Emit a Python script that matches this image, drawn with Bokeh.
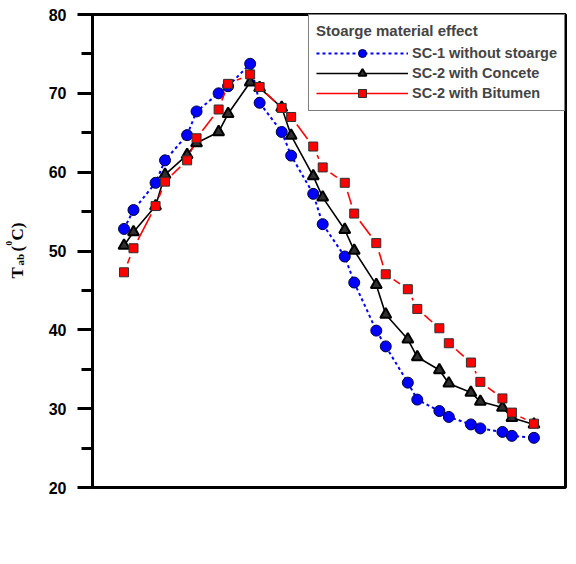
import math
from bokeh.plotting import figure
from bokeh.layouts import row
from bokeh.models import FixedTicker, Legend, LegendItem, Label, Range1d
from bokeh.embed import file_html
from bokeh.resources import INLINE

# ---------------- data ----------------
time = [8, 8.3, 9, 9.3, 10, 10.3, 11, 11.3, 12, 12.3, 13, 13.3, 14, 14.3,
        15, 15.3, 16, 16.3, 17, 17.3, 18, 18.3, 19, 19.3, 20, 20.3, 21]
sc1_without_storage = [52.8, 55.2, 58.65, 61.5, 64.7, 67.7, 70.0, 70.9, 73.75, 68.8,
                       65.1, 62.1, 57.25, 53.4, 49.3, 46.0, 39.9, 37.9, 33.3, 31.15,
                       29.7, 28.95, 28.0, 27.5, 27.05, 26.55, 26.3]
sc2_concrete = [50.7, 52.4, 55.7, 59.7, 62.2, 63.7, 65.1, 67.4, 71.4, 70.7,
                68.2, 64.65, 59.5, 56.8, 52.7, 50.05, 45.7, 41.95, 38.8, 36.55,
                34.9, 33.2, 32.05, 30.9, 30.15, 28.85, 28.0]
sc2_bitumen = [47.3, 50.35, 55.7, 58.8, 61.5, 64.3, 67.95, 71.2, 72.4, 70.8,
               68.15, 67.0, 63.25, 60.6, 58.65, 54.75, 51.0, 47.05, 45.15, 42.65,
               40.2, 38.3, 35.85, 33.4, 31.3, 29.5, 28.1]
series_names = ["SC-1 without stoarge", "SC-2 with Concete", "SC-2 with Bitumen"]
legend_title = "Stoarge material effect"
x_ticks = [8, 10, 12, 14, 16, 18, 20, 22]
y_ticks = [20, 30, 40, 50, 60, 70, 80]
y_minor_ticks = [25, 35, 45, 55, 65, 75]

# ---------------- layout ----------------
LW = 34                      # width of the strip holding the y-axis title
X0, X1, Y0, Y1 = 7, 22, 20, 80
FW, FH = 473, 473
BL, BR, BT, BB = 92 - LW, 11, 14, 77
TOTAL_H = BT + FH + BB

p = figure(width=BL + FW + BR, height=TOTAL_H,
           x_range=Range1d(X0, X1), y_range=Range1d(Y0, Y1),
           output_backend="svg", toolbar_location=None,
           min_border_left=BL, min_border_right=BR,
           min_border_top=BT, min_border_bottom=BB)
p.grid.visible = False
p.outline_line_color = "black"
p.outline_line_width = 3

TICK_FONT = "Liberation Sans"
p.axis.axis_line_width = 3
p.axis.axis_line_color = "black"
p.axis.major_tick_line_color = "black"
p.axis.minor_tick_line_color = "black"
p.axis.major_tick_line_width = 3
p.axis.minor_tick_line_width = 3
p.axis.major_tick_in = 0
p.axis.minor_tick_in = 0
p.axis.major_tick_out = 15
p.axis.minor_tick_out = 11
p.axis.major_label_text_font = TICK_FONT
p.axis.major_label_text_font_style = "bold"
p.axis.major_label_text_font_size = "16px"
p.axis.major_label_text_color = "black"
p.xaxis.level = "image"
p.yaxis.level = "overlay"

p.xaxis.ticker = FixedTicker(ticks=x_ticks, minor_ticks=[])
p.yaxis.ticker = FixedTicker(ticks=y_ticks, minor_ticks=y_minor_ticks)
p.xaxis.major_label_standoff = 16
p.yaxis.major_label_standoff = 11
p.xaxis.axis_label = "Time (hr)"
p.xaxis.axis_label_text_font = "Liberation Serif"
p.xaxis.axis_label_text_font_style = "bold"
p.xaxis.axis_label_text_font_size = "17px"
p.xaxis.axis_label_standoff = 9

# ---------------- series ----------------
b_line = p.line(time, sc1_without_storage, line_color="#0000FF", line_width=2, line_dash="3 3")
b_mark = p.scatter(time, sc1_without_storage, marker="circle", size=11,
                   fill_color="#0000FF", line_color="#000040", line_width=1)

k_line = p.line(time, sc2_concrete, line_color="black", line_width=1.6)
k_mark = p.scatter(time, sc2_concrete, marker="triangle", size=11,
                   fill_color="#303030", line_color="black", line_width=2)

sx = FW / (X1 - X0)
sy = FH / (Y1 - Y0)
GAP = 9.5
sx0, sy0, sx1, sy1 = [], [], [], []
for i in range(len(time) - 1):
    xa, ya, xb, yb = time[i], sc2_bitumen[i], time[i + 1], sc2_bitumen[i + 1]
    L = math.hypot((xb - xa) * sx, (yb - ya) * sy)
    if L > 2 * GAP + 1:
        f = GAP / L
        sx0.append(xa + f * (xb - xa)); sy0.append(ya + f * (yb - ya))
        sx1.append(xb - f * (xb - xa)); sy1.append(yb - f * (yb - ya))
r_seg = p.segment(x0=sx0, y0=sy0, x1=sx1, y1=sy1, line_color="#FF0000", line_width=1.6)
r_mark = p.scatter(time, sc2_bitumen, marker="square", size=9,
                   fill_color="#FF0000", line_color="#303030", line_width=1)

legend = Legend(items=[
    LegendItem(label=series_names[0], renderers=[b_line, b_mark]),
    LegendItem(label=series_names[1], renderers=[k_line, k_mark]),
    LegendItem(label=series_names[2], renderers=[r_seg, r_mark]),
], location="top_right", margin=0, padding=7, spacing=0,
    glyph_width=92, glyph_height=20, label_height=20, label_standoff=4,
    border_line_color="black", border_line_width=1.5,
    background_fill_color="white", background_fill_alpha=1,
    label_text_font=TICK_FONT, label_text_font_style="bold",
    label_text_font_size="14.5px",
    title=legend_title, title_text_font=TICK_FONT, title_text_font_style="bold",
    title_text_font_size="15px", title_standoff=4)
p.add_layout(legend, "center")

# ---------------- y-axis title strip (rotated, composed text) ----------------
q = figure(width=LW, height=TOTAL_H, x_range=Range1d(0, LW),
           y_range=Range1d(BT + FH, BT),
           output_backend="svg", toolbar_location=None,
           x_axis_location=None, y_axis_location=None,
           min_border_left=0, min_border_right=0, min_border_top=0, min_border_bottom=0)
q.grid.visible = False
q.outline_line_color = None

def ylab(txt, bx, by, size):
    q.add_layout(Label(x=bx, y=by, text=txt, angle=math.pi / 2,
                       text_align="left", text_baseline="alphabetic",
                       text_font="Liberation Serif", text_font_style="bold",
                       text_font_size=size, text_color="black"))

ylab("T", 17, 278, "17px")
ylab("ab", 19, 265, "11px")
ylab("(", 17, 251, "17px")
ylab("0", 8, 245, "9px")
ylab("C)", 17, 240, "17px")

open("out.html", "w").write(file_html(row(q, p), INLINE))
